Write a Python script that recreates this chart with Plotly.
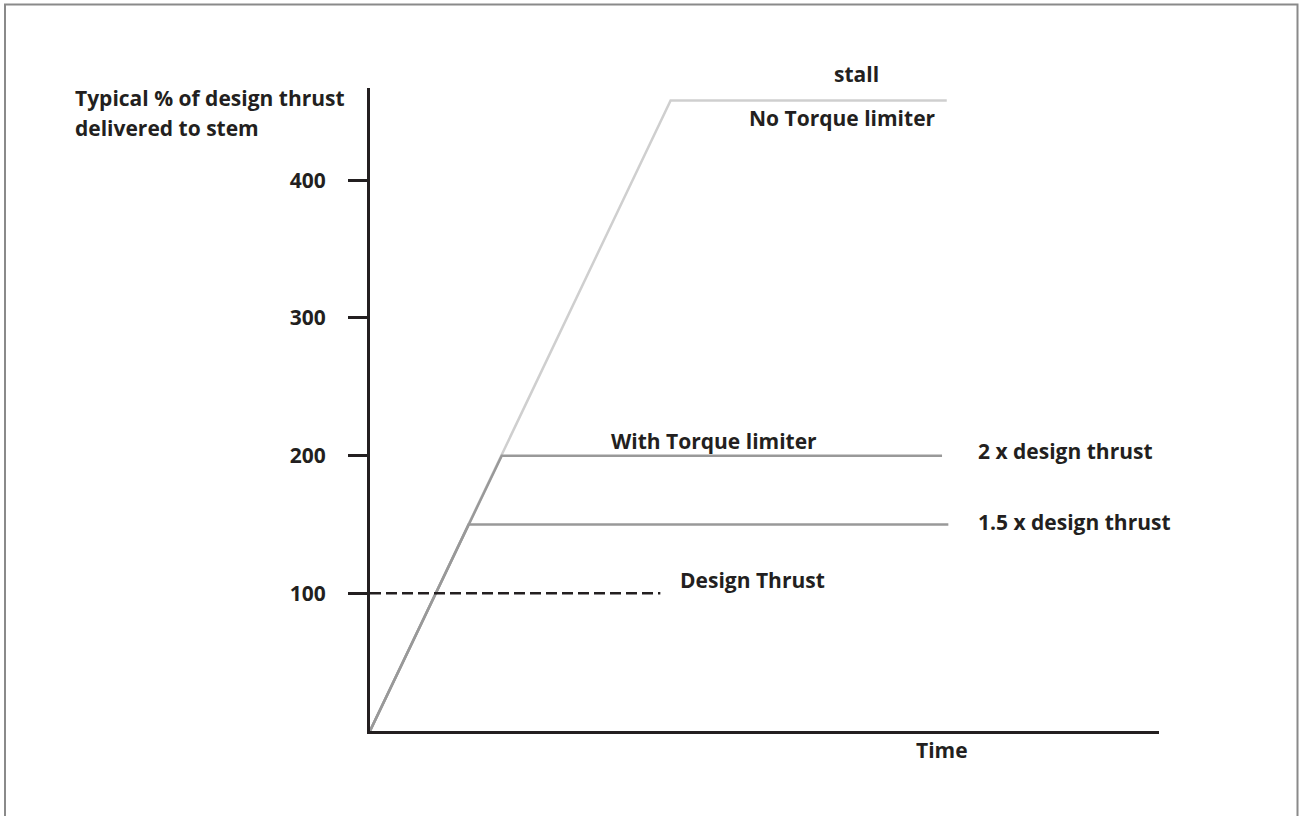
import plotly.graph_objects as go

# ---- data ----
y_ticks = [100, 200, 300, 400]
y_tick_labels = ["100", "200", "300", "400"]

design_thrust = 100
stall_thrust = 458
limiter_2x = 200
limiter_15x = 150

# time values (arbitrary units, axis runs 0..100)
no_limiter_t = [0, 38.1, 73.1]
no_limiter_y = [0, stall_thrust, stall_thrust]
limiter2_t = [0, 16.7, 72.5]
limiter2_y = [0, limiter_2x, limiter_2x]
limiter15_t = [0, 12.5, 73.3]
limiter15_y = [0, limiter_15x, limiter_15x]
design_t = [0, 36.8]
design_y = [design_thrust, design_thrust]

# ---- layout constants ----
W, H = 1299, 816
ML, MR, MT, MB = 370, 140, 88, 85
PW, PH = W - ML - MR, H - MT - MB
INK = "#231f20"
FONT = "Open Sans"
FS = 21


def px_to_paper_x(px):
    return (px - ML) / PW


def px_to_paper_y(py):
    return (H - MB - py) / PH


fig = go.Figure()
fig.add_trace(go.Scatter(x=no_limiter_t, y=no_limiter_y, mode="lines",
                         line=dict(color="#cfcfcf", width=2.5), hoverinfo="skip"))
fig.add_trace(go.Scatter(x=limiter2_t, y=limiter2_y, mode="lines",
                         line=dict(color="#999999", width=2.5), hoverinfo="skip"))
fig.add_trace(go.Scatter(x=limiter15_t, y=limiter15_y, mode="lines",
                         line=dict(color="#999999", width=2.5), hoverinfo="skip"))
fig.add_trace(go.Scatter(x=design_t, y=design_y, mode="lines",
                         line=dict(color=INK, width=2.5, dash="11px,5px"), hoverinfo="skip"))

font = dict(family=FONT, size=FS, color=INK)
ann = []
# axis title (y), two lines
ann.append(dict(text="<b>Typical % of design thrust</b>",
                xref="paper", yref="paper", x=px_to_paper_x(73), y=px_to_paper_y(98),
                xanchor="left", yanchor="middle", align="left", showarrow=False, font=font))
ann.append(dict(text="<b>delivered to stem</b>",
                xref="paper", yref="paper", x=px_to_paper_x(73), y=px_to_paper_y(128),
                xanchor="left", yanchor="middle", align="left", showarrow=False, font=font))
ann.append(dict(text="<b>Time</b>", xref="paper", yref="paper",
                x=px_to_paper_x(942), y=px_to_paper_y(750),
                xanchor="center", yanchor="middle", showarrow=False, font=font))
# line labels
ann.append(dict(text="<b>stall</b>", x=61.7, y=stall_thrust, yshift=26,
                xanchor="center", yanchor="middle", showarrow=False, font=font))
ann.append(dict(text="<b>No Torque limiter</b>", x=59.9, y=stall_thrust, yshift=-18,
                xanchor="center", yanchor="middle", showarrow=False, font=font))
ann.append(dict(text="<b>With Torque limiter</b>", x=43.6, y=limiter_2x, yshift=15,
                xanchor="center", yanchor="middle", showarrow=False, font=font))
ann.append(dict(text="<b>2 x design thrust</b>", x=76.8, y=limiter_2x, yshift=5,
                xanchor="left", yanchor="middle", showarrow=False, font=font))
ann.append(dict(text="<b>1.5 x design thrust</b>", x=76.8, y=limiter_15x, yshift=2,
                xanchor="left", yanchor="middle", showarrow=False, font=font))
ann.append(dict(text="<b>Design Thrust</b>", x=39.0, y=design_thrust, yshift=13,
                xanchor="left", yanchor="middle", showarrow=False, font=font))

# outer frame (left, top, right)
xl, xr = px_to_paper_x(5), px_to_paper_x(1297.5)
yt, yb = px_to_paper_y(4.5), px_to_paper_y(830)
shapes = [dict(type="path", xref="paper", yref="paper",
               path=f"M {xl} {yb} L {xl} {yt} L {xr} {yt} L {xr} {yb}",
               line=dict(color="#8a8a8a", width=2))]

fig.update_layout(
    width=W, height=H,
    margin=dict(l=ML, r=MR, t=MT, b=MB),
    paper_bgcolor="white", plot_bgcolor="white",
    showlegend=False,
    annotations=ann,
    shapes=shapes,
    xaxis=dict(range=[0, 100], showline=True, linecolor=INK, linewidth=3,
               showgrid=False, zeroline=False, showticklabels=False, ticks=""),
    yaxis=dict(range=[0, 467], showline=True, linecolor=INK, linewidth=3,
               showgrid=False, zeroline=False, tickmode="array",
               tickvals=y_ticks, ticktext=[f"<b>{t}</b>" for t in y_tick_labels],
               ticks="outside", ticklen=19, tickwidth=3, tickcolor=INK,
               ticklabelstandoff=18,
               tickfont=dict(family=FONT, size=FS, color=INK)),
)

fig.write_html("out.html",
               config={"displayModeBar": False},
               post_script="document.body.style.margin='0';document.body.style.overflow='hidden';")
